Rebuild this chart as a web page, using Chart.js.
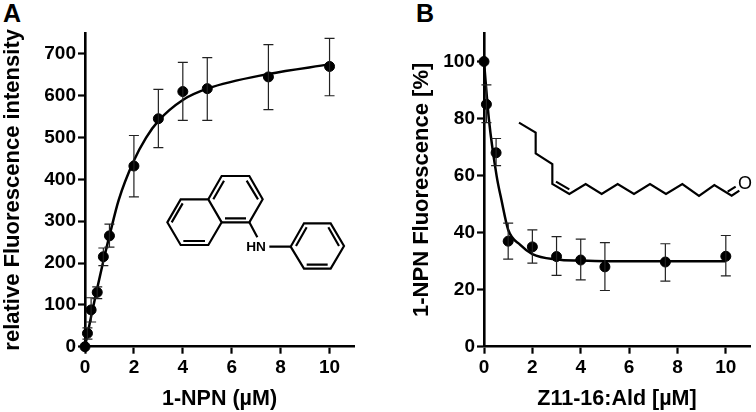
<!DOCTYPE html>
<html>
<head>
<meta charset="utf-8">
<title>1-NPN binding</title>
<script src="https://cdn.jsdelivr.net/npm/chart.js@4"></script>
<style>
  body { margin: 0; background: #fff; width: 756px; height: 412px; overflow: hidden; position: relative; }
  canvas, svg, .panel { position: absolute; }
  .panel { font: bold 25px "Liberation Sans", Arial, sans-serif; color: #000; line-height: 1; }
  svg { fill: none; stroke: #000; stroke-width: 6.5; stroke-linejoin: miter; }
  svg text { fill: #000; stroke: none; font-family: "Liberation Sans", Arial, sans-serif; }
</style>
</head>
<body>
<div class="panel" style="left:3px;top:1px">A</div>
<div class="panel" style="left:416px;top:1px">B</div>
<canvas id="chartA" width="375" height="412" style="left:0;top:0"></canvas>
<canvas id="chartB" width="381" height="412" style="left:375px;top:0"></canvas>

<!-- 1-NPN structure, coordinates in 3x crop space -->
<svg viewBox="0 0 630 390" style="left:150px;top:160px;width:210px;height:130px">
  <path d="M52 187L92 118H175L215 187L175 255H92Z"/>
  <path d="M175 118L215 48H298L338 118L298 187H215"/>
  <path d="M65 187L98 130M100 243H165M190 118L222 62M290 62L324 118M225 175H288"/>
  <path d="M298 187L322 232M358 260H422"/>
  <path d="M422 260L462 190H542L582 258L542 326H462Z"/>
  <path d="M438 258L470 202M535 202L567 258M470 314H533"/>
  <text x="318" y="274" text-anchor="middle" font-size="41" font-weight="bold">HN</text>
</svg>
<!-- Z11-16:Ald structure -->
<svg viewBox="0 0 738 300" style="left:510px;top:110px;width:246px;height:100px">
  <path d="M27 38L77 68V130L127 162V222L178 252L227 222L275 252L323 222L372 252L420 222L468 252L517 222L567 258L613 225L665 257L688 242"/>
  <path d="M138 215L178 238M653 245L677 230"/>
  <text x="705" y="238" text-anchor="middle" font-size="54">O</text>
</svg>

<script>
const FONT = "'Liberation Sans', Arial, sans-serif";

// panel A
const npnConc = [0, 0.1, 0.25, 0.5, 0.75, 1, 2, 3, 4, 5, 7.5, 10];
const npnMean = [0, 32, 88, 130, 215, 265, 432, 545, 610, 617, 645, 670];
const npnUpper = [0, 45, 117, 143, 236, 293, 505, 615, 680, 691, 722, 737];
const npnLower = [0, 18, 59, 115, 194, 238, 358, 476, 541, 541, 567, 600];
const npnFitX = [0, 0.25, 0.5, 0.75, 1, 1.38, 2, 2.5, 3, 4, 5, 7.5, 10];
const npnFitY = [0, 72, 140, 205, 265, 351, 445, 500, 540, 590, 617, 652, 675];
const npnXTicks = [0, 2, 4, 6, 8, 10];
const npnYTicks = [0, 100, 200, 300, 400, 500, 600, 700];

// panel B
const aldConc = [0, 0.1, 0.5, 1, 2, 3, 4, 5, 7.5, 10];
const aldMean = [100, 85, 68, 37, 35, 31.6, 30.4, 28, 29.7, 31.7];
const aldUpper = [100, 91.8, 73, 43.3, 41, 38.6, 37.7, 36.5, 36.1, 39];
const aldLower = [100, 78.6, 63.5, 30.7, 29.3, 25, 23.4, 19.7, 23, 24.8];
const aldFitX = [0, 0.2, 0.52, 0.72, 1, 1.5, 2, 3, 4, 5, 7.5, 10];
const aldFitY = [100, 80, 60, 51.5, 41, 35.7, 32.5, 30.6, 30.2, 30, 30, 30];
const aldXTicks = [0, 2, 4, 6, 8, 10];
const aldYTicks = [0, 20, 40, 60, 80, 100];

const errorBars = {
  id: "errorBars",
  afterDatasetsDraw(chart, args, opts) {
    const { ctx, scales } = chart;
    ctx.save();
    ctx.strokeStyle = "#222";
    ctx.lineWidth = 1.2;
    opts.x.forEach((v, i) => {
      if (opts.upper[i] === opts.lower[i]) return;
      const x = scales.x.getPixelForValue(v);
      const hi = scales.y.getPixelForValue(opts.upper[i]);
      const lo = scales.y.getPixelForValue(opts.lower[i]);
      ctx.beginPath();
      ctx.moveTo(x, hi); ctx.lineTo(x, lo);
      ctx.moveTo(x - 5, hi); ctx.lineTo(x + 5, hi);
      ctx.moveTo(x - 5, lo); ctx.lineTo(x + 5, lo);
      ctx.stroke();
    });
    ctx.restore();
  }
};

function makePanel(id, cfg) {
  const axis = (max, ticks) => ({
    type: "linear",
    min: 0,
    max: max,
    afterBuildTicks: s => { s.ticks = ticks.map(v => ({ value: v })); },
    grid: { display: true, drawOnChartArea: false, color: "#000", tickWidth: 2.2, tickLength: 7 },
    border: { display: true, color: "#000", width: 2.6 },
    ticks: { color: "#000", padding: 2, autoSkip: false, maxRotation: 0, font: { family: FONT, size: 19, weight: "bold" } }
  });
  const xAxis = axis(11, cfg.xTicks);
  xAxis.ticks.padding = 3;
  xAxis.title = { display: true, text: cfg.xTitle, color: "#000", padding: { top: 0, bottom: 0 }, font: { family: FONT, size: 21.5, weight: "bold" } };
  xAxis.afterFit = s => { s.height = 412 - 346.7; };
  const yAxis = axis(cfg.yMax, cfg.yTicks);
  yAxis.title = { display: true, text: cfg.yTitle, color: "#000", padding: { top: cfg.yTitlePad, bottom: 0 }, font: { family: FONT, size: 22, weight: "bold" } };
  yAxis.afterFit = s => { s.width = cfg.yWidth; };

  return new Chart(document.getElementById(id), {
    type: "scatter",
    data: {
      datasets: [
        {
          label: "fit",
          data: cfg.fitX.map((x, i) => ({ x: x, y: cfg.fitY[i] })),
          showLine: true,
          cubicInterpolationMode: "monotone",
          borderColor: "#000",
          borderWidth: 2.5,
          pointRadius: 0,
          clip: false
        },
        {
          label: "mean",
          data: cfg.x.map((x, i) => ({ x: x, y: cfg.y[i] })),
          backgroundColor: "#000",
          borderColor: "#000",
          pointRadius: 5,
          clip: false
        }
      ]
    },
    options: {
      responsive: false,
      animation: false,
      layout: { padding: { top: 33, right: cfg.padRight, left: 0, bottom: 0 } },
      plugins: { legend: { display: false }, tooltip: { enabled: false }, errorBars: { x: cfg.x, upper: cfg.upper, lower: cfg.lower } },
      scales: { x: xAxis, y: yAxis }
    },
    plugins: [errorBars]
  });
}

makePanel("chartA", {
  x: npnConc, y: npnMean, upper: npnUpper, lower: npnLower, fitX: npnFitX, fitY: npnFitY,
  xTicks: npnXTicks, yTicks: npnYTicks, yMax: 750,
  xTitle: "1-NPN (µM)", yTitle: "relative Fluorescence intensity",
  yWidth: 85, padRight: 21, yTitlePad: 0
});
makePanel("chartB", {
  x: aldConc, y: aldMean, upper: aldUpper, lower: aldLower, fitX: aldFitX, fitY: aldFitY,
  xTicks: aldXTicks, yTicks: aldYTicks, yMax: 110,
  xTitle: "Z11-16:Ald [µM]", yTitle: "1-NPN Fluorescence [%]",
  yWidth: 109, padRight: 3, yTitlePad: 34
});
</script>
</body>
</html>
